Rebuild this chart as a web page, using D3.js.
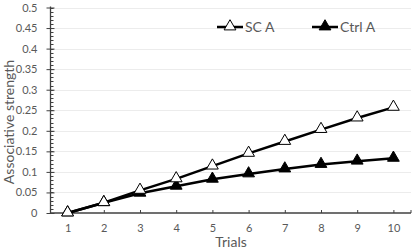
<!DOCTYPE html>
<html>
<head>
<meta charset="utf-8">
<script src="https://cdn.jsdelivr.net/npm/d3@7"></script>
<style>
  body { margin: 0; background: #fff; }
  text { font-family: Lato, "Open Sans", sans-serif; fill: #595959; }
</style>
</head>
<body>
<svg id="chart" width="419" height="252"></svg>
<script>
// data
var trials = [1, 2, 3, 4, 5, 6, 7, 8, 9, 10];
var scA = [0, 0.025, 0.055, 0.083, 0.114, 0.145, 0.174, 0.203, 0.231, 0.257];
var ctrlA = [0, 0.025, 0.048, 0.065, 0.082, 0.095, 0.107, 0.118, 0.126, 0.133];
var yTicks = [0, 0.05, 0.1, 0.15, 0.2, 0.25, 0.3, 0.35, 0.4, 0.45, 0.5];

var svg = d3.select('#chart');

// plot edges
var pLeft = 50.5, pRight = 411, pTop = 7.5, pBottom = 213;

var x = d3.scaleLinear().domain([0.5, 10.5]).range([49.5, 411.5]);
var y = d3.scaleLinear().domain([0, 0.5]).range([pBottom, pTop]);

// gridlines
svg.append('g').selectAll('line').data(yTicks.slice(1)).enter().append('line')
  .attr('x1', pLeft).attr('x2', pRight)
  .attr('y1', function (d) { return Math.round(y(d)) + 0.5; })
  .attr('y2', function (d) { return Math.round(y(d)) + 0.5; })
  .attr('stroke', '#ececec').attr('stroke-width', 1);

// y axis minor ticks (inside)
var minor = d3.range(0, 0.5001, 0.01);
svg.append('g').selectAll('line').data(minor).enter().append('line')
  .attr('x1', pLeft).attr('x2', pLeft + 3)
  .attr('y1', function (d) { return Math.round(y(d)) + 0.5; })
  .attr('y2', function (d) { return Math.round(y(d)) + 0.5; })
  .attr('stroke', '#404040').attr('stroke-width', 1);

// y axis
var yAxis = svg.append('g').attr('transform', 'translate(' + pLeft + ',0)')
  .call(d3.axisLeft(y).tickValues(yTicks).tickSize(4).tickPadding(9)
    .tickFormat(function (d) { return String(+d.toFixed(2)); }));
yAxis.select('.domain').remove();
yAxis.selectAll('.tick line').attr('x2', -4).attr('x1', 4).attr('stroke', '#404040');
yAxis.selectAll('text').style('font-size', '11px').style('fill', '#595959');
svg.append('line').attr('x1', pLeft).attr('x2', pLeft).attr('y1', pTop - 1).attr('y2', pBottom)
  .attr('stroke', '#404040').attr('stroke-width', 1.3);

// x axis
var xAxis = svg.append('g').attr('transform', 'translate(0,' + pBottom + ')')
  .call(d3.axisBottom(x).tickValues(trials).tickSize(0).tickPadding(11));
xAxis.select('.domain').remove();
xAxis.selectAll('text').style('font-size', '11px').style('fill', '#595959');
xAxis.selectAll('.tick').append('line').attr('y1', 0).attr('y2', -3)
  .attr('stroke', '#404040');
svg.append('line').attr('x1', pLeft).attr('x2', pRight).attr('y1', pBottom).attr('y2', pBottom)
  .attr('stroke', '#404040').attr('stroke-width', 1.3);
svg.append('line').attr('x1', pRight).attr('x2', pRight).attr('y1', pBottom).attr('y2', pBottom - 3)
  .attr('stroke', '#404040');

// axis titles
svg.append('text').attr('x', 231).attr('y', 247).attr('text-anchor', 'middle')
  .style('font-size', '14px').text('Trials');
svg.append('text').attr('transform', 'translate(14,122) rotate(-90)').attr('text-anchor', 'middle')
  .style('font-size', '14px').text('Associative strength');

var tri = d3.symbol().type(d3.symbolTriangle).size(60);
var line = d3.line().x(function (d, i) { return x(trials[i]); }).y(function (d) { return y(d); });

function series(vals, fill) {
  svg.append('path').datum(vals).attr('d', line).attr('fill', 'none')
    .attr('stroke', '#000').attr('stroke-width', 2.5);
  svg.append('g').selectAll('path').data(vals).enter().append('path')
    .attr('d', tri)
    .attr('transform', function (d, i) { return 'translate(' + x(trials[i]) + ',' + (y(d) - 0.5) + ')'; })
    .attr('fill', fill).attr('stroke', '#000').attr('stroke-width', 1);
}
series(ctrlA, '#000');
series(scA, '#fff');

// legend
var legend = [{ name: 'SC A', fill: '#fff', x: 217 }, { name: 'Ctrl A', fill: '#000', x: 312 }];
legend.forEach(function (l) {
  svg.append('line').attr('x1', l.x).attr('x2', l.x + 26).attr('y1', 27).attr('y2', 27)
    .attr('stroke', '#000').attr('stroke-width', 2.5);
  svg.append('path').attr('d', tri).attr('transform', 'translate(' + (l.x + 13) + ',26.5)')
    .attr('fill', l.fill).attr('stroke', '#000');
  svg.append('text').attr('x', l.x + 28).attr('y', 32).style('font-size', '14px').text(l.name);
});
</script>
</body>
</html>
